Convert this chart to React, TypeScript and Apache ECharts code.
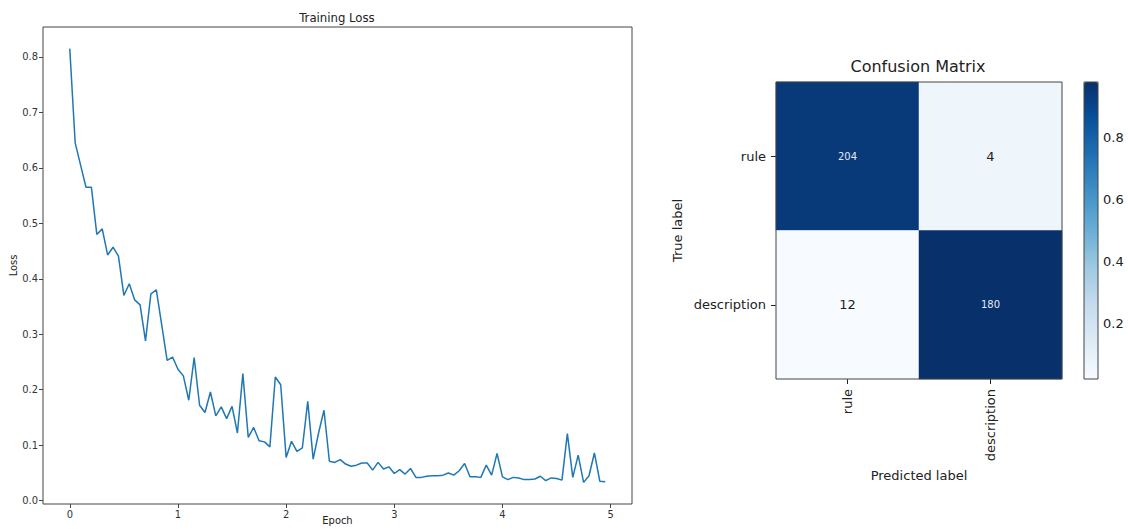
import React, { useEffect, useRef } from "react";
import * as echarts from "echarts";

// ---------- Training loss ----------
const EPOCH_STEP = 0.05;
const lossValues = [
  0.815, 0.645, 0.605, 0.565, 0.565, 0.48, 0.49, 0.443, 0.457, 0.441,
  0.37, 0.391, 0.362, 0.353, 0.288, 0.373, 0.38, 0.317, 0.253, 0.259,
  0.237, 0.225, 0.181, 0.258, 0.172, 0.159, 0.196, 0.153, 0.169, 0.148,
  0.17, 0.122, 0.229, 0.114, 0.132, 0.108, 0.106, 0.097, 0.223, 0.209,
  0.078, 0.107, 0.089, 0.095, 0.179, 0.075, 0.122, 0.163, 0.071, 0.069,
  0.074, 0.066, 0.062, 0.064, 0.068, 0.068, 0.055, 0.069, 0.057, 0.061,
  0.049, 0.056, 0.048, 0.058, 0.042, 0.042, 0.044, 0.045, 0.045, 0.046,
  0.05, 0.046, 0.054, 0.067, 0.043, 0.043, 0.042, 0.064, 0.046, 0.085,
  0.043, 0.038, 0.042, 0.041, 0.038, 0.038, 0.039, 0.044, 0.036, 0.041,
  0.04, 0.037, 0.121, 0.042, 0.082, 0.033, 0.045, 0.086, 0.035, 0.034,
];
const epochTicks = [0, 1, 2, 3, 4, 5];
const lossTicks = [0, 0.1, 0.2, 0.3, 0.4, 0.5, 0.6, 0.7, 0.8];

// ---------- Confusion matrix ----------
const classLabels = ["rule", "description"];
// counts[trueRow][predCol]
const counts = [
  [204, 4],
  [12, 180],
];
// colour intensity of each cell
const cellShade = [
  [0.95, 0.06],
  [0.02, 0.981],
];
const colorbarTicks = [0.2, 0.4, 0.6, 0.8];
const colorbarMin = 0.019;
const colorbarMax = 0.981;
const bluesCmap = [
  "#f7fbff", "#deebf7", "#c6dbef", "#9ecae1", "#6baed6",
  "#4292c6", "#2171b5", "#08519c", "#08306b",
];

const LEFT_FONT = "'Liberation Sans Narrow', 'DejaVu Sans Condensed', 'DejaVu Sans', sans-serif";
const RIGHT_FONT = "'DejaVu Sans', sans-serif";
const SPINE = "#444";

export default function App() {
  const ref = useRef<HTMLDivElement>(null);
  useEffect(() => {
    if (!ref.current) return;
    const chart = echarts.init(ref.current, undefined, { renderer: "svg" });

    const lineData = lossValues.map((v, i) => [i * EPOCH_STEP, v]);
    const heatData: any[] = [];
    counts.forEach((row, r) =>
      row.forEach((c, col) => {
        const shade = cellShade[r][col];
        const dark = shade > 0.5;
        heatData.push({
          value: [col, r, shade, c],
          label: dark
            ? { color: "#e4ebf5", fontSize: 10 }
            : { color: "#222", fontSize: 13 },
        });
      })
    );

    const gridBase = {
      show: true,
      borderColor: SPINE,
      borderWidth: 1,
      backgroundColor: "transparent",
      containLabel: false,
      outerBoundsMode: "none",
    };

    const option: any = {
      animation: false,
      backgroundColor: "#fff",
      title: [
        {
          text: "Training Loss",
          left: 337,
          top: 11,
          padding: 0,
          textAlign: "center",
          textStyle: { fontSize: 13, fontWeight: "normal", color: "#222", fontFamily: LEFT_FONT },
        },
        {
          text: "Confusion Matrix",
          left: 918,
          top: 58,
          padding: 0,
          textAlign: "center",
          textStyle: { fontSize: 16, fontWeight: "normal", color: "#222", fontFamily: RIGHT_FONT },
        },
      ],
      grid: [
        { ...gridBase, left: 43, top: 27, width: 589, height: 477 },
        { ...gridBase, left: 776, top: 82, width: 286, height: 297, z: 5 },
        { ...gridBase, left: 1084, top: 82, width: 14, height: 297, z: 10 },
      ],
      xAxis: [
        {
          gridIndex: 0,
          type: "value",
          min: -0.2475,
          max: 5.1975,
          name: "Epoch",
          nameLocation: "middle",
          nameGap: 11,
          nameMoveOverlap: false,
          nameTextStyle: { fontSize: 11, color: "#222", fontFamily: LEFT_FONT },
          axisLine: { show: false, onZero: false },
          splitLine: { show: false },
          axisTick: { show: true, length: 4, lineStyle: { color: SPINE }, customValues: epochTicks },
          axisLabel: { customValues: epochTicks, fontSize: 11, color: "#333", margin: 5, fontFamily: LEFT_FONT },
        },
        {
          gridIndex: 1,
          type: "category",
          data: classLabels,
          name: "Predicted label",
          nameLocation: "middle",
          nameGap: 90,
          nameTextStyle: { fontSize: 13, color: "#222", fontFamily: RIGHT_FONT },
          axisLine: { show: false },
          splitLine: { show: false },
          axisTick: { show: true, alignWithLabel: true, length: 5, lineStyle: { color: "#222" } },
          axisLabel: { rotate: 90, fontSize: 13, color: "#222", margin: 10, fontFamily: RIGHT_FONT },
        },
        {
          gridIndex: 2,
          type: "value",
          show: false,
        },
      ],
      yAxis: [
        {
          gridIndex: 0,
          type: "value",
          min: -0.006,
          max: 0.854,
          name: "Loss",
          nameLocation: "middle",
          nameGap: 24,
          nameMoveOverlap: false,
          nameTextStyle: { fontSize: 11, color: "#222", fontFamily: LEFT_FONT },
          axisLine: { show: false, onZero: false },
          splitLine: { show: false },
          axisTick: { show: true, length: 4, lineStyle: { color: SPINE }, customValues: lossTicks },
          axisLabel: {
            customValues: lossTicks,
            fontSize: 11,
            color: "#333",
            margin: 5,
            fontFamily: LEFT_FONT,
            formatter: (v: number) => v.toFixed(1),
          },
        },
        {
          gridIndex: 1,
          type: "category",
          data: classLabels,
          inverse: true,
          name: "True label",
          nameLocation: "middle",
          nameGap: 92,
          nameTextStyle: { fontSize: 13, color: "#222", fontFamily: RIGHT_FONT },
          axisLine: { show: false },
          splitLine: { show: false },
          axisTick: { show: true, alignWithLabel: true, length: 5, lineStyle: { color: "#222" } },
          axisLabel: { fontSize: 13, color: "#222", margin: 10, fontFamily: RIGHT_FONT },
        },
        {
          gridIndex: 2,
          type: "value",
          position: "right",
          min: colorbarMin,
          max: colorbarMax,
          axisLine: { show: false },
          splitLine: { show: false },
          axisTick: { show: true, length: 5, lineStyle: { color: "#222" }, customValues: colorbarTicks },
          axisLabel: {
            customValues: colorbarTicks,
            fontSize: 13,
            color: "#222",
            margin: 5,
            fontFamily: RIGHT_FONT,
            formatter: (v: number) => v.toFixed(1),
          },
        },
      ],
      visualMap: {
        type: "continuous",
        seriesIndex: 1,
        dimension: 2,
        min: colorbarMin,
        max: colorbarMax,
        orient: "vertical",
        left: 1084,
        top: 82,
        itemWidth: 14,
        itemHeight: 297,
        padding: 0,
        calculable: false,
        hoverLink: false,
        text: null,
        showLabel: false,
        inRange: { color: bluesCmap },
      },
      series: [
        {
          type: "line",
          xAxisIndex: 0,
          yAxisIndex: 0,
          data: lineData,
          showSymbol: false,
          symbol: "none",
          lineStyle: { color: "#1f77b4", width: 1.5 },
        },
        {
          type: "heatmap",
          xAxisIndex: 1,
          yAxisIndex: 1,
          data: heatData,
          label: {
            show: true,
            fontFamily: RIGHT_FONT,
            formatter: (p: any) => String(p.value[3]),
          },
          itemStyle: { borderWidth: 0 },
          emphasis: { disabled: true },
        },
      ],
    };

    chart.setOption(option);
    return () => chart.dispose();
  }, []);

  return (
    <div
      ref={ref}
      style={{ position: "fixed", left: 0, top: 0, width: 1128, height: 529, background: "#fff" }}
    />
  );
}
